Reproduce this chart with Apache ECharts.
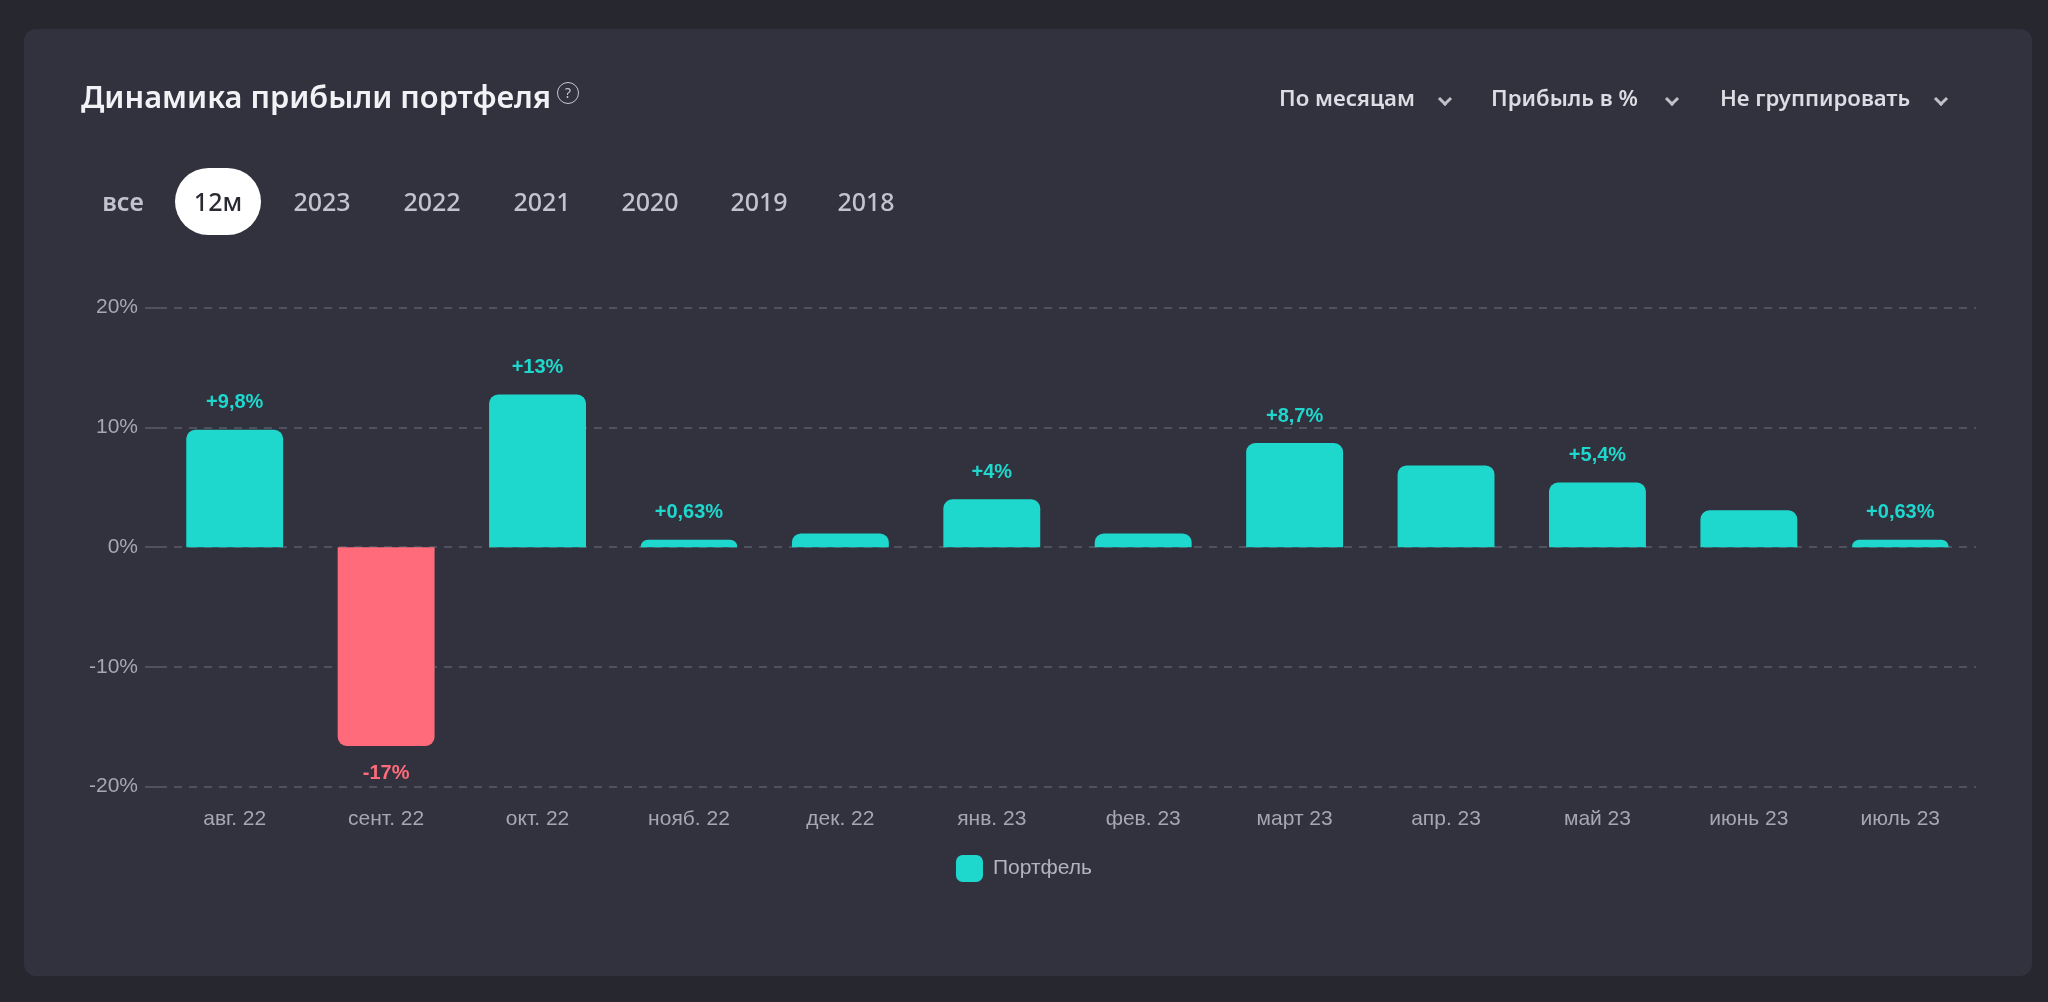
<!DOCTYPE html>
<html>
<head>
<meta charset="utf-8">
<script src="https://cdn.jsdelivr.net/npm/echarts@6/dist/echarts.min.js"></script>
<style>
  html, body { margin: 0; padding: 0; width: 2048px; height: 1002px; background: #27272f; overflow: hidden; }
  #card { position: absolute; left: 24px; top: 29px; width: 2008px; height: 947px; background: #32323e; border-radius: 12px; }
  #chart { position: absolute; left: 0; top: 0; width: 2048px; height: 1002px; }
  .hdr { position: absolute; font-family: "Noto Sans", sans-serif; white-space: nowrap; }
  #title { left: 81px; top: 76px; font-size: 30.8px; font-weight: 600; color: #f2f2f6; line-height: 40px; }
  #help { position: absolute; left: 557px; top: 82px; width: 20px; height: 20px; border: 1.5px solid #c8c8d2; border-radius: 50%;
          color: #c8c8d2; font-family: "Noto Sans", sans-serif; font-size: 14px; line-height: 20px; text-align: center; }
  .tab { position: absolute; top: 183px; transform: translateX(-50%); font-family: "Noto Sans", sans-serif; font-size: 25px;
         font-weight: 500; color: #c3c3cf; line-height: 36px; }
  #pill { position: absolute; left: 175px; top: 168px; width: 86px; height: 67px; border-radius: 34px; background: #ffffff; }
  .dd { position: absolute; top: 83px; font-family: "Noto Sans", sans-serif; font-size: 22.2px; font-weight: 600; color: #dcdce4; line-height: 30px; }
  .chev { position: absolute; width: 7px; height: 7px; border-right: 3px solid #c0c0ca; border-bottom: 3px solid #c0c0ca; transform: rotate(45deg); top: 94px; }
</style>
</head>
<body>
<div id="card"></div>
<div id="chart"></div>
<div class="hdr" id="title">Динамика прибыли портфеля</div>
<div id="help">?</div>
<div id="pill"></div>
<div class="dd" style="left:1279px">По месяцам</div>
<div class="chev" style="left:1440px"></div>
<div class="dd" style="left:1491px">Прибыль в %</div>
<div class="chev" style="left:1667px"></div>
<div class="dd" style="left:1720px">Не группировать</div>
<div class="chev" style="left:1936px"></div>
<script>
// ---- data ----
const tabs = ["все", "12м", "2023", "2022", "2021", "2020", "2019", "2018"];
const tabCenters = [123, 218, 322, 432, 542, 650, 759, 866];
const categories = ["авг. 22", "сент. 22", "окт. 22", "нояб. 22", "дек. 22", "янв. 23", "фев. 23", "март 23", "апр. 23", "май 23", "июнь 23", "июль 23"];
const portfolio = [9.8, -16.6, 12.75, 0.63, 1.15, 4.0, 1.15, 8.7, 6.83, 5.4, 3.08, 0.63];
const labelShown = [true, true, true, true, false, true, false, true, false, true, false, true];
const yTicks = [-20, -10, 0, 10, 20];
const seriesName = "Портфель";

const POS = "#1ed8ce", NEG = "#ff6b7b";

tabs.forEach((t, i) => {
  const d = document.createElement("div");
  d.className = "tab";
  d.textContent = t;
  d.style.left = tabCenters[i] + "px";
  if (i === 1) { d.style.color = "#2a2a33"; d.style.fontWeight = "500"; }
  if (i === 0) { d.style.fontWeight = "600"; }
  document.body.appendChild(d);
});

function fmt(v) {
  const r = Number(Math.abs(v).toPrecision(2));
  return (v >= 0 ? "+" : "-") + String(r).replace(".", ",") + "%";
}

const chart = echarts.init(document.getElementById("chart"), null, { renderer: "canvas" });
chart.setOption({
  backgroundColor: "transparent",
  animation: false,
  grid: { left: 159, right: 72, top: 307.7, bottom: 215.3, containLabel: false },
  legend: {
    data: [seriesName], bottom: 115, left: "center",
    itemWidth: 27, itemHeight: 27, icon: "roundRect",
    textStyle: { color: "#b4b4c0", fontSize: 21, fontFamily: "Liberation Sans, Arial", padding: [0, 0, 0, 5] }
  },
  xAxis: {
    type: "category", data: categories,
    axisLine: { show: false }, axisTick: { show: false },
    axisLabel: { color: "#a7a7b3", fontSize: 21, fontFamily: "Liberation Sans, Arial", margin: 22 }
  },
  yAxis: {
    type: "value", min: yTicks[0], max: yTicks[yTicks.length - 1], interval: 10,
    axisLine: { show: false },
    axisTick: { show: true, length: 14, lineStyle: { color: "#4f525e", width: 2 } },
    axisLabel: { color: "#a7a7b3", fontSize: 21, fontFamily: "Liberation Sans, Arial", margin: 21, formatter: v => v + "%" },
    splitLine: { show: true, lineStyle: { color: "#4f525e", width: 2, type: [8, 7] } }
  },
  series: [{
    name: seriesName, type: "bar", barWidth: "64%",
    itemStyle: { color: POS },
    z: 1,
    data: portfolio.map((v, i) => ({
      value: v,
      itemStyle: { color: v >= 0 ? POS : NEG, borderRadius: v >= 0 ? [9, 9, 0, 0] : [0, 0, 9, 9] },
      label: {
        show: labelShown[i], position: v >= 0 ? "top" : "bottom", distance: 17,
        color: v >= 0 ? POS : NEG, fontSize: 20, fontWeight: "bold", fontFamily: "Liberation Sans, Arial",
        formatter: () => fmt(v)
      }
    }))
  }]
});
</script>
</body>
</html>
